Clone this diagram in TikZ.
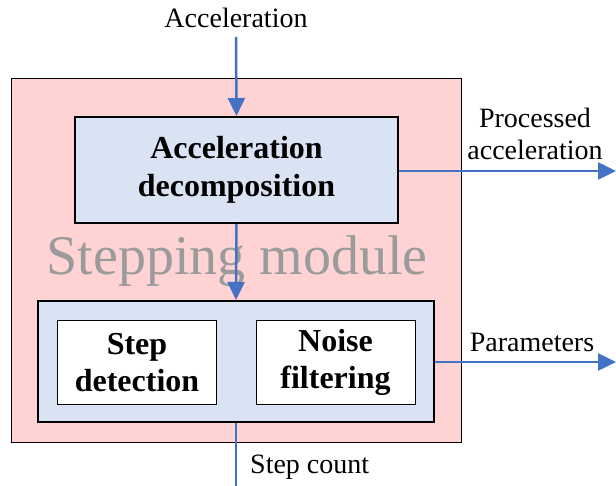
\documentclass[tikz,border=0pt]{standalone}
\usepackage{fontspec}
\setmainfont{Liberation Serif}
\definecolor{modpink}{RGB}{255,211,211}
\definecolor{boxblue}{RGB}{218,227,243}
\definecolor{arrblue}{RGB}{68,114,196}
\definecolor{modgray}{RGB}{155,155,155}
\usetikzlibrary{arrows.meta, positioning}

\begin{document}
\begin{tikzpicture}[x=1pt,y=-1pt,
  lbl/.style={font=\fontsize{28}{32}\selectfont, inner sep=0pt, align=center},
  blk/.style={draw, line width=2pt, fill=boxblue, font=\fontsize{32}{38}\selectfont\bfseries, align=center, inner sep=0pt},
  sub/.style={draw, line width=1pt, fill=white, font=\fontsize{32}{37}\selectfont\bfseries, align=center, inner sep=0pt, minimum width=159pt, minimum height=83pt},
  flow/.style={arrblue, line width=2.5pt, -{Triangle[length=18pt,width=17pt]}}]
\useasboundingbox (0,0) rectangle (616,486);
% module frame
\node[draw, line width=0.8pt, fill=modpink, minimum width=450pt, minimum height=364pt, inner sep=0pt] (mod) at (236,260) {};
\node[text=modgray, font=\fontsize{56}{60}\selectfont, inner sep=0pt, anchor=base] (modname) at (237,275) {Stepping module};
% blocks
\node[blk, minimum width=323pt, minimum height=106pt] (decomp) at (236.5,170) {Acceleration\\decomposition};
\node[blk, minimum width=396pt, minimum height=121pt] (det) at (236,361.5) {};
\node[sub] (stepdet) at (137,362.5) {Step\\detection};
\node[sub] (noise) at (335.5,362.5) {Noise\\filtering};
% labels
\node[lbl] (acc) at (236,18) {Acceleration};
\node[lbl] (proc) at (535,134) {Processed\\acceleration};
\node[lbl] (par) at (532,342) {Parameters};
\node[lbl, anchor=west] (cnt) at (250,467) {Step count};
\coordinate (accout) at (616,171);
\coordinate (parout) at (616,362);
\coordinate (cntout) at (236,486);
% connectors
\draw[flow] (acc.south |- 0,37) -- (decomp.north);
\draw[flow] (decomp.south) -- (det.north);
\draw[flow] (decomp.east |- accout) -- (accout);
\draw[flow] (det.east |- parout) -- (parout);
\draw[arrblue, line width=2.5pt] (det.south) -- (cntout);
\end{tikzpicture}
\end{document}
